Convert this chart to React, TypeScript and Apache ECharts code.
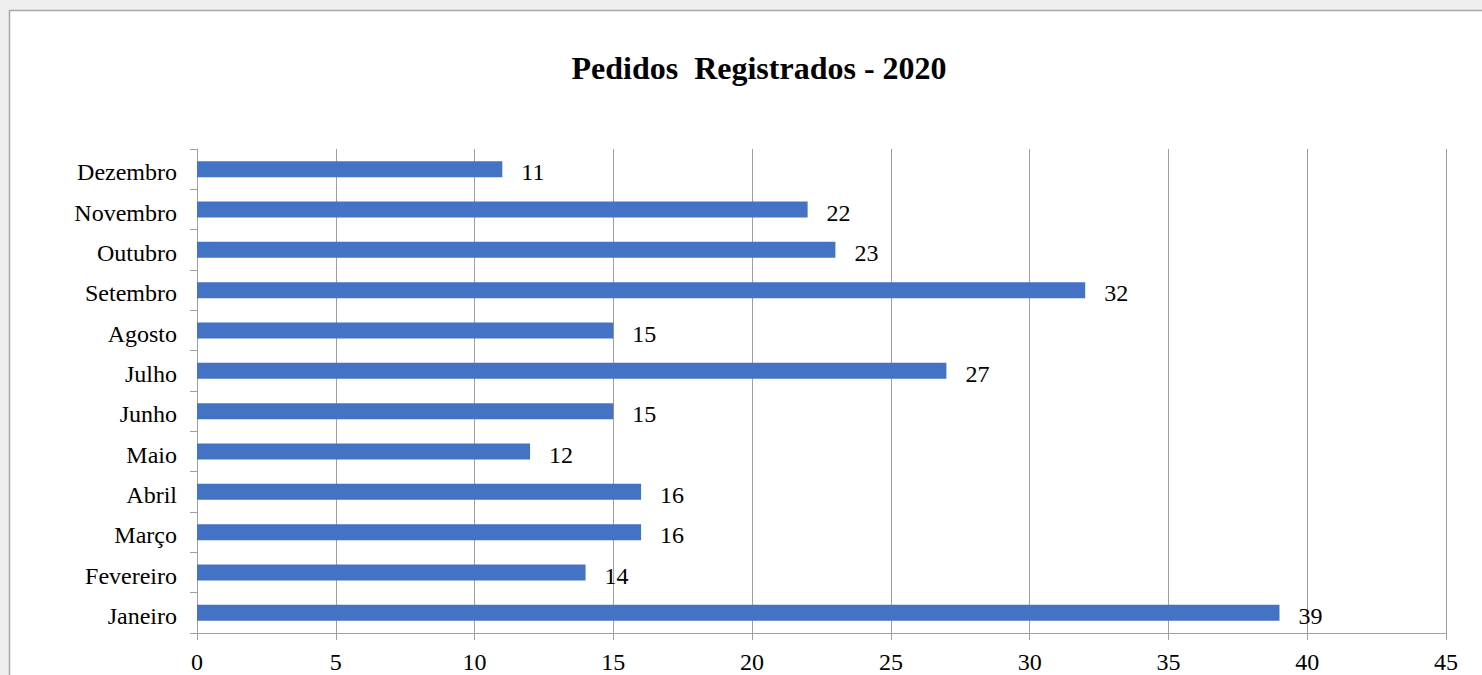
import React, { useEffect, useRef } from "react";
import * as echarts from "echarts";

const months = ["Janeiro", "Fevereiro", "Março", "Abril", "Maio", "Junho", "Julho", "Agosto", "Setembro", "Outubro", "Novembro", "Dezembro"];
const pedidos = [39, 14, 16, 16, 12, 15, 27, 15, 32, 23, 22, 11];
const titleText = "Pedidos  Registrados - 2020";

const FONT = "'Liberation Serif', 'Times New Roman', serif";
const GRIDC = "#a0a0a0";

export default function App() {
  const ref = useRef<HTMLDivElement>(null);
  useEffect(() => {
    document.body.style.margin = "0";
    const chart = echarts.init(ref.current!, null, { renderer: "svg" });
    chart.setOption({
      animation: false,
      backgroundColor: "#efefef",
      graphic: [
        {
          type: "rect",
          z: -10,
          shape: { x: 9.5, y: 10.5, width: 1500, height: 700 },
          style: { fill: "#ffffff", stroke: "#a8a8a8", lineWidth: 1.5 },
          silent: true,
        },
      ],
      title: {
        text: titleText,
        left: 754,
        top: 47,
        textAlign: "center",
        textStyle: { fontFamily: FONT, fontWeight: "bold", fontSize: 32, color: "#000" },
      },
      grid: { left: 197, right: 36, top: 149, bottom: 42, containLabel: false, outerBoundsMode: "none" },
      xAxis: {
        type: "value",
        min: 0,
        max: 45,
        interval: 5,
        axisLine: { show: true, lineStyle: { color: GRIDC, width: 1 } },
        axisTick: { show: true, length: 7, lineStyle: { color: GRIDC } },
        splitLine: { show: true, lineStyle: { color: GRIDC, width: 1 } },
        axisLabel: { fontFamily: FONT, fontSize: 24, color: "#000", margin: 17, lineHeight: 24 },
      },
      yAxis: {
        type: "category",
        data: months,
        axisLine: { show: true, lineStyle: { color: GRIDC, width: 1 } },
        axisTick: { show: true, length: 7, alignWithLabel: false, lineStyle: { color: GRIDC } },
        axisLabel: {
          fontFamily: FONT,
          fontSize: 24,
          color: "#000",
          margin: 20,
          formatter: (v: string) => "{m|" + v + "}",
          rich: { m: { fontFamily: FONT, fontSize: 24, color: "#000", padding: [6, 0, 0, 0] } },
        },
      },
      series: [
        {
          type: "bar",
          data: pedidos,
          barWidth: 16,
          itemStyle: { color: "#4472C4" },
          label: {
            show: true,
            position: "right",
            distance: 19,
            offset: [0, 3],
            fontFamily: FONT,
            fontSize: 24,
            color: "#000",
          },
        },
      ],
    });
    return () => chart.dispose();
  }, []);
  return <div ref={ref} style={{ position: "absolute", left: 0, top: 0, width: 1482, height: 675 }} />;
}
